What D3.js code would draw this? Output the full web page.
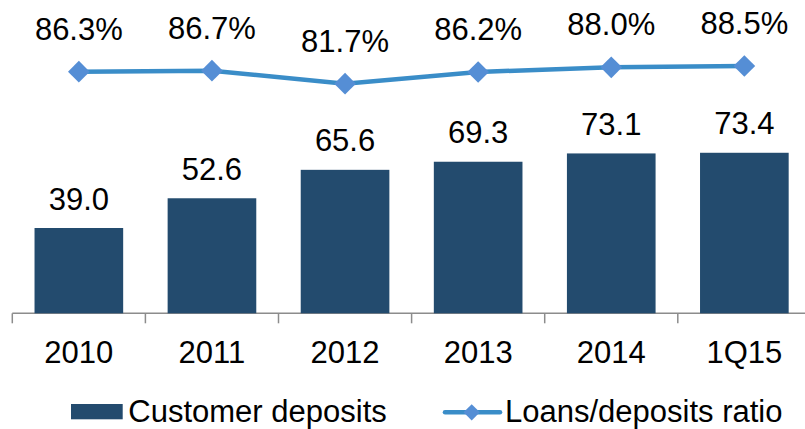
<!DOCTYPE html>
<html>
<head>
<meta charset="utf-8">
<script src="https://d3js.org/d3.v7.min.js"></script>
<style>
  body { margin: 0; background: #fff; }
  text { font-family: Arial, "Liberation Sans", sans-serif; fill: #000; }
</style>
</head>
<body>
<svg id="chart" width="805" height="429"></svg>
<script>
"use strict";

// Data:
var categories = ["2010", "2011", "2012", "2013", "2014", "1Q15"];
var deposits = [39.0, 52.6, 65.6, 69.3, 73.1, 73.4];
var ratio = [86.3, 86.7, 81.7, 86.2, 88.0, 88.5];
var legendLabels = ["Customer deposits", "Loans/deposits ratio"];

var barColor = "#234B6E";
var lineColor = "#3A8DC8";
var markerColor = "#558ED5";

var svg = d3.select("#chart");

// Scales:
var x = d3.scaleBand()
    .domain(categories)
    .range([12.3, 12.3 + 133.1 * categories.length])
    .paddingInner(0.334)
    .paddingOuter(0.167);

var yBar = d3.scaleLinear().domain([0, 100]).range([313.3, 94.6]);
var yLine = d3.scaleLinear().domain([80, 90]).range([88.1, 62.1]);

// Axis:
var axis = d3.axisBottom(x).tickSize(0).tickFormat("");
var axisG = svg.append("g")
    .attr("transform", "translate(0," + yBar(0) + ")")
    .call(axis);
axisG.select(".domain").remove();
axisG.append("line")
    .attr("x1", 12.3).attr("x2", 805)
    .attr("stroke", "#8C8C8C").attr("stroke-width", 1.5);
axisG.selectAll(".sep")
    .data(d3.range(categories.length + 1))
    .enter()
    .append("line")
    .attr("class", "sep")
    .attr("x1", function (i) { return x.range()[0] + i * x.step(); })
    .attr("x2", function (i) { return x.range()[0] + i * x.step(); })
    .attr("y1", 0).attr("y2", 10)
    .attr("stroke", "#8C8C8C").attr("stroke-width", 1.5);

svg.selectAll(".cat")
    .data(categories)
    .enter()
    .append("text")
    .attr("class", "cat")
    .attr("x", function (d) { return x(d) + x.bandwidth() / 2; })
    .attr("y", 363.3)
    .attr("text-anchor", "middle")
    .attr("font-size", 31)
    .text(function (d) { return d; });

// Bars:
svg.selectAll(".bar")
    .data(deposits)
    .enter()
    .append("rect")
    .attr("class", "bar")
    .attr("x", function (d, i) { return x(categories[i]); })
    .attr("y", function (d) { return yBar(d); })
    .attr("width", x.bandwidth())
    .attr("height", function (d) { return yBar(0) - yBar(d); })
    .attr("fill", barColor);

svg.selectAll(".barLabel")
    .data(deposits)
    .enter()
    .append("text")
    .attr("class", "barLabel")
    .attr("x", function (d, i) { return x(categories[i]) + x.bandwidth() / 2; })
    .attr("y", function (d) { return yBar(d) - 18.5; })
    .attr("text-anchor", "middle")
    .attr("font-size", 31)
    .text(function (d) { return d.toFixed(1); });

// Line:
var line = d3.line()
    .x(function (d, i) { return x(categories[i]) + x.bandwidth() / 2; })
    .y(function (d) { return yLine(d); });

svg.append("path")
    .datum(ratio)
    .attr("d", line)
    .attr("fill", "none")
    .attr("stroke", lineColor)
    .attr("stroke-width", 4.5);

var diamond = d3.symbol().type(d3.symbolDiamond2).size(300);

svg.selectAll(".marker")
    .data(ratio)
    .enter()
    .append("path")
    .attr("class", "marker")
    .attr("d", diamond)
    .attr("transform", function (d, i) {
        return "translate(" + (x(categories[i]) + x.bandwidth() / 2) + "," + yLine(d) + ")";
    })
    .attr("fill", markerColor);

svg.selectAll(".lineLabel")
    .data(ratio)
    .enter()
    .append("text")
    .attr("class", "lineLabel")
    .attr("x", function (d, i) { return x(categories[i]) + x.bandwidth() / 2; })
    .attr("y", function (d) { return yLine(d) - 32; })
    .attr("text-anchor", "middle")
    .attr("font-size", 31)
    .text(function (d) { return d.toFixed(1) + "%"; });

// Legend:
var legend = svg.append("g");
legend.append("rect")
    .attr("x", 71).attr("y", 404)
    .attr("width", 51.7).attr("height", 15.3)
    .attr("fill", barColor);
legend.append("text")
    .attr("x", 128.3).attr("y", 421.7)
    .attr("font-size", 31)
    .text(legendLabels[0]);

legend.append("line")
    .attr("x1", 445).attr("x2", 500)
    .attr("y1", 412.3).attr("y2", 412.3)
    .attr("stroke", lineColor)
    .attr("stroke-width", 4.5)
    .attr("stroke-linecap", "round");
legend.append("path")
    .attr("d", d3.symbol().type(d3.symbolDiamond2).size(170))
    .attr("transform", "translate(471.7,412.3)")
    .attr("fill", markerColor);
legend.append("text")
    .attr("x", 505).attr("y", 421.7)
    .attr("font-size", 31)
    .text(legendLabels[1]);
</script>
</body>
</html>
